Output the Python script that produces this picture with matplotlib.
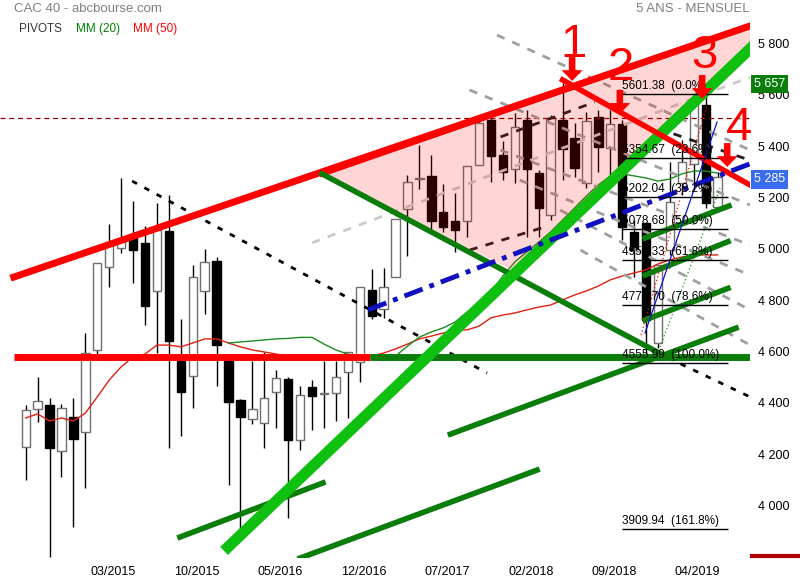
import matplotlib
matplotlib.use("Agg")
import matplotlib.pyplot as plt
from matplotlib.patches import Polygon, FancyArrow
from matplotlib.lines import Line2D
import numpy as np

# monthly candles, 08/2014 .. 06/2019
opens = [4229, 4375, 4392, 4214, 4344, 4285, 4606, 4928, 5002, 5053,
         5023, 4837, 5069, 4564, 4506, 4837, 4953, 4564, 4411, 4336,
         4320, 4443, 4492, 4255, 4460, 4435, 4437, 4521, 4560, 4840,
         4764, 4889, 5155, 5272, 5284, 5143, 5108, 5108, 5325, 5502,
         5366, 5310, 5502, 5294, 5132, 5502, 5431, 5255, 5512, 5392,
         5486, 5067, 5102, 4632, 4995, 5258, 5330, 5560, 5164]
highs = [4392, 4499, 4418, 4395, 4418, 4671, 4944, 5097, 5275, 5186,
         5089, 5177, 5210, 4725, 4937, 4999, 4967, 4575, 4416, 4564,
         4599, 4528, 4500, 4466, 4487, 4564, 4564, 4599, 4852, 4920,
         4924, 5115, 5288, 5405, 5366, 5253, 5219, 5322, 5500, 5534,
         5420, 5528, 5540, 5307, 5521, 5645, 5489, 5534, 5541, 5541,
         5502, 5112, 5102, 4937, 5339, 5424, 5600, 5601, 5300]
lows = [4099, 4327, 3800, 4112, 3917, 4069, 4576, 4850, 4983, 4868,
        4703, 4595, 4223, 4272, 4379, 4745, 4467, 4080, 3892, 4316,
        4224, 4301, 3951, 4216, 4294, 4301, 4331, 4340, 4482, 4725,
        4729, 4889, 4973, 5232, 5073, 5066, 4989, 5045, 5325, 5262,
        5268, 5255, 5047, 5047, 5112, 5268, 5281, 5236, 5300, 5288,
        5034, 4891, 4556, 4612, 4976, 5210, 5230, 5158, 5150]
closes = [4372, 4407, 4223, 4379, 4260, 4593, 4944, 5025, 5037, 4997,
          4778, 5073, 4642, 4443, 4889, 4948, 4627, 4404, 4343, 4375,
          4418, 4496, 4255, 4431, 4428, 4439, 4500, 4597, 4852, 4739,
          4850, 5115, 5259, 5277, 5110, 5084, 5073, 5322, 5489, 5362,
          5300, 5474, 5310, 5158, 5509, 5388, 5314, 5499, 5398, 5486,
          5086, 4995, 4723, 4937, 5184, 5339, 5580, 5177, 5281]

mm20_start = 17
mm20 = [4633, 4637, 4641, 4645, 4649, 4651, 4655, 4655, 4629, 4606,
        4590, 4582, 4579, 4579, 4582, 4621, 4656, 4676, 4692, 4715,
        4754, 4789, 4832, 4894, 4949, 4988, 5026, 5066, 5112, 5159,
        5206, 5249, 5284, 5292, 5284, 5276, 5264, 5272, 5292, 5303,
        5303, 5295]
mm50 = [4341, 4357, 4329, 4341, 4329, 4360, 4423, 4489, 4540, 4579,
        4590, 4625, 4625, 4618, 4633, 4649, 4649, 4633, 4618, 4606,
        4598, 4590, 4581, 4577, 4575, 4575, 4575, 4575, 4577, 4582,
        4594, 4610, 4629, 4649, 4660, 4672, 4684, 4684, 4699, 4731,
        4742, 4750, 4762, 4773, 4781, 4801, 4820, 4836, 4855, 4879,
        4894, 4906, 4918, 4941, 4957, 4968, 4976, 4976, 4976]

x_labels = ["03/2015", "10/2015", "05/2016", "12/2016",
            "07/2017", "02/2018", "09/2018", "04/2019"]
x_label_idx = [7, 14, 21, 28, 35, 42, 49, 56]
y_ticks = [4000, 4200, 4400, 4600, 4800, 5000, 5200, 5400, 5600, 5800]

fib_pct = ["0.0%", "23.6%", "38.2%", "50.0%", "61.8%", "78.6%", "100.0%", "161.8%"]
fib_val = [5601.38, 5354.67, 5202.04, 5078.68, 4955.33, 4779.70, 4555.99, 3909.94]

# trend lines, (candle index, price) end points
red_top = [(-1.0, 4890), (60.7, 5868)]
red_down = [(45.0, 5658), (60.7, 5249)]
support_level = 4577
red_support = [(-1.0, 28.9)]
green_support = [(28.9, 61.0)]
resist_level = 5508
lime_line = [(16.96, 3838), (60.7, 5779)]
blue_line = [(28.7, 4762), (60.7, 5331)]
triangle = [(24.84, 5292), (63.06, 5907), (40.85, 4914)]
green_side = [(24.84, 5292), (53.42, 4586)]
black_dot1 = [(8.92, 5264), (38.67, 4516)]
black_dot2 = [(53.84, 4575), (60.71, 4423)]
black_dash_in = [[(37.2, 4995), (43.5, 5085)], [(39.8, 5436), (47.7, 5572)],
                 [(54.3, 5448), (60.71, 5345)]]
green_lines = [[(12.93, 3877), (24.92, 4088)], [(23.0, 3795), (42.86, 4138)],
               [(35.6, 4278), (59.54, 4691)], [(51.91, 5042), (58.95, 5167)],
               [(51.91, 4898), (58.87, 5028)], [(51.91, 4723), (58.87, 4846)]]
grey_lines = [[(39.5, 5833), (60.71, 5385)], [(37.2, 5619), (60.71, 5171)],
              [(39.8, 5385), (60.71, 5015)], [(41.4, 5268), (60.71, 4898)],
              [(44.8, 5151), (60.71, 4762)], [(46.5, 4995), (60.71, 4625)]]
light_line = [(24.0, 5023), (60.71, 5669)]
red_dot = [(51.58, 4664), (57.1, 5560)]
blue_thin = [(51.91, 4672), (57.95, 5494)]
green_dot = [(53.17, 4618), (58.2, 5237)]

# arrow x, arrow top, label, label x, label baseline
arrows = [(45.8, 5747, "1", 45.9, 5747), (49.8, 5619, "2", 49.9, 5658),
          (56.7, 5677, "3", 56.9, 5704), (58.8, 5412, "4", 59.8, 5424)]
arrow_len = 93

fig = plt.figure(figsize=(8, 5.8), dpi=100)
ax = fig.add_axes([0, 22 / 580, 750 / 800, 540 / 580])
ax.set_xlim(-2.154, 60.71)
ax.set_ylim(3795.4, 5899.3)
for s in ax.spines.values():
    s.set_visible(False)

idx = np.arange(len(opens))
o = np.array(opens); c = np.array(closes)
up = c >= o
ax.vlines(idx, lows, highs, color="black", lw=1, zorder=2)
ax.bar(idx[up], (c - o)[up], bottom=o[up], width=0.7, color="white",
       edgecolor="#707070", lw=1, zorder=3)
ax.bar(idx[~up], (o - c)[~up], bottom=c[~up], width=0.7, color="black",
       edgecolor="black", lw=1, zorder=3)

# moving averages
ax.plot(np.arange(len(mm50)), mm50, color="#e02010", lw=1, zorder=4)
ax.plot(np.arange(mm20_start, mm20_start + len(mm20)), mm20, color="#1e8c1e", lw=1, zorder=4)

def seg(p, **kw):
    ax.plot([p[0][0], p[1][0]], [p[0][1], p[1][1]], **kw)

ax.axhline(resist_level, color="#8b0000", lw=0.9, ls=(0, (4, 3)), zorder=4)
for p in grey_lines:
    seg(p, color="#a0a0a0", lw=2, ls=(0, (3, 3)), zorder=5)
seg(light_line, color="#d0c8c8", lw=2, ls=(0, (3, 3)), zorder=5)
seg(black_dot1, color="black", lw=2, ls=(0, (2, 3)), zorder=5)
seg(black_dot2, color="black", lw=2, ls=(0, (2, 3)), zorder=5)
for p in black_dash_in:
    seg(p, color="#202020", lw=2, ls=(0, (3, 3)), zorder=5)

ax.add_patch(Polygon(triangle, closed=True, facecolor=(1, 0, 0, 0.16),
                     edgecolor="none", zorder=6))
seg([triangle[0], triangle[1]], color="red", lw=4, zorder=7)
seg([triangle[0], triangle[1]], color="black", lw=0.8, zorder=7)
seg([triangle[2], triangle[1]], color="black", lw=0.8, zorder=7)

seg(red_top, color="red", lw=5, zorder=7)
ax.hlines(support_level, red_support[0][0], red_support[0][1], color="red", lw=5, zorder=7)
ax.hlines(support_level, green_support[0][0], green_support[0][1], color="#0a7d0a", lw=5, zorder=7)
seg(green_side, color="#0a7d0a", lw=4, zorder=7)
for p in green_lines:
    seg(p, color="#0a7d0a", lw=4, zorder=7)
seg(lime_line, color="#10c010", lw=8, zorder=7)
seg(red_down, color="red", lw=4, zorder=7)
seg(blue_line, color="#1010c0", lw=3.5, ls=(0, (4, 1.5, 1, 1.5)), zorder=8)
seg(red_dot, color="red", lw=0.9, ls=(0, (1, 2)), zorder=8)
seg(blue_thin, color="#1010d0", lw=0.9, zorder=8)
seg(green_dot, color="#10a010", lw=0.9, ls=(0, (1, 2)), zorder=8)

# fibonacci levels
narrow = ["Liberation Sans Narrow", "Liberation Sans", "DejaVu Sans"]
for v, pct in zip(fib_val, fib_pct):
    ax.hlines(v, 49.96, 58.9, color="black", lw=1, zorder=9)
    ax.text(49.96, v + 8, f"{v:.2f}  ({pct})", fontsize=8.5, family=narrow,
            ha="left", va="bottom", zorder=9)

# numbered arrows
for xi, ytop, label, xl, ybase in arrows:
    ax.add_patch(FancyArrow(xi, ytop, 0, -arrow_len, width=0.55, head_width=1.75,
                            head_length=42, length_includes_head=True,
                            color="red", lw=0, zorder=10))
    ax.text(xl, ybase, label, color="red", fontsize=34, family="Liberation Sans",
            ha="center", va="baseline", zorder=10)

ax.set_yticks(y_ticks)
ax.set_yticklabels([f"{t // 1000} {t % 1000:03d}" for t in y_ticks],
                   fontsize=9, family="Liberation Sans")
ax.yaxis.tick_right()
ax.set_xticks([i + 0.33 for i in x_label_idx])
ax.set_xticklabels(x_labels, fontsize=9, family=narrow)
ax.tick_params(axis="both", length=0)
ax.tick_params(axis="y", pad=6)
ax.tick_params(axis="x", pad=6)

# value boxes on the right axis
fig.text(754 / 800, 1 - 83.7 / 580, "5 657", color="white", fontsize=9, family="Liberation Sans",
         va="center", ha="left",
         bbox=dict(boxstyle="square,pad=0.25", fc="#0a7d0a", ec="none"))
fig.text(754 / 800, 1 - 179.4 / 580, "5 285", color="white", fontsize=9, family="Liberation Sans",
         va="center", ha="left",
         bbox=dict(boxstyle="square,pad=0.25", fc="#3a6cf0", ec="none"))
fig.add_artist(Line2D([752 / 800, 1.0], [1 - 555.5 / 580] * 2, color="#b00000", lw=3))

fig.text(14 / 800, 1 - 9 / 580, "CAC 40 - abcbourse.com", color="#808080", fontsize=9.5,
         family="Liberation Sans", va="center")
fig.text(750 / 800, 1 - 9 / 580, "5 ANS - MENSUEL", color="#808080", fontsize=9.5,
         family="Liberation Sans", va="center", ha="right")
fig.text(19 / 800, 1 - 29 / 580, "PIVOTS", color="#333333", fontsize=8.5,
         family="Liberation Sans", va="center")
fig.text(76 / 800, 1 - 29 / 580, "MM (20)", color="#008000", fontsize=8.5,
         family="Liberation Sans", va="center")
fig.text(133 / 800, 1 - 29 / 580, "MM (50)", color="#ff0000", fontsize=8.5,
         family="Liberation Sans", va="center")

fig.savefig("out.png", dpi=100)
